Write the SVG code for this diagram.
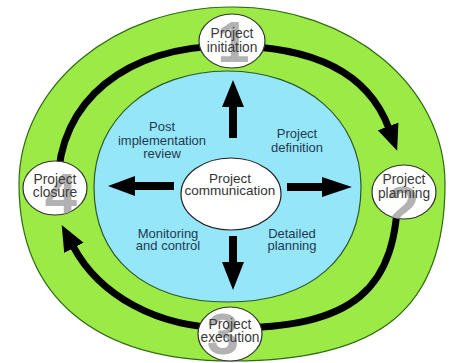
<svg xmlns="http://www.w3.org/2000/svg" width="453" height="363" viewBox="0 0 453 363">
  <style>
    .node { fill: #ffffff; stroke: #333333; stroke-width: 1.2; }
    .ntext { font-family: "Liberation Sans", Arial, sans-serif; font-size: 13.8px; fill: #3a3a3a; text-anchor: middle; }
    .digit { font-family: "Liberation Sans", Arial, sans-serif; font-size: 58px; font-weight: bold; fill: #b2b2b2; text-anchor: middle; }
    .label { font-family: "Liberation Sans", Arial, sans-serif; font-size: 13px; fill: #1f3a4f; text-anchor: middle; }
    .ring { fill: none; stroke: #000000; stroke-width: 7; }
    .block { fill: #000000; }
  </style>
  <defs>
    <marker id="ah" markerUnits="userSpaceOnUse" markerWidth="30" markerHeight="26" viewBox="0 -13 30 26" refX="2" refY="0" orient="auto">
      <path d="M0,-11 L26,0 L0,11 Z" fill="#000000"/>
    </marker>
    <clipPath id="c-init"><ellipse cx="232" cy="41" rx="33" ry="27"/></clipPath>
    <clipPath id="c-plan"><ellipse cx="404" cy="192" rx="32" ry="27"/></clipPath>
    <clipPath id="c-exec"><ellipse cx="230" cy="334" rx="32" ry="27"/></clipPath>
    <clipPath id="c-close"><ellipse cx="55" cy="188" rx="32" ry="27"/></clipPath>
  </defs>

  <rect x="0" y="0" width="453" height="363" fill="#ffffff"/>

  <g id="outer-ring">
    <path d="M19,184 C19,86.2 114.4,7 232,7 C349.6,7 445,86.2 445,184 C445,307.9 381.1,361 232,361 C95.7,361 19,297.3 19,184 Z" fill="#9BEA45" stroke="#2f6b14" stroke-width="1.2"/>
  </g>
  <g id="inner-area">
    <path d="M94,186.5 C94,119.5 150.1,71 227.5,71 C304.9,71 361,119.5 361,186.5 C361,258.1 310.3,302 227.5,302 C144.7,302 94,258.1 94,186.5 Z" fill="#96E6FA" stroke="#2b5a2b" stroke-width="1.2"/>
  </g>

  <g id="connectors">
    <path class="ring" d="M58,185.5 C58,101 126,46 228,46"/>
    <path class="ring" d="M228,46 C314.4,46 368.5,73.5 388.8,128.2" marker-end="url(#ah)"/>
    <path class="ring" d="M398,185.5 C398,290.95 353.8,328 228,328"/>
    <path class="ring" d="M228,328 C157.3,328 99.2,295.3 73,246.1" marker-end="url(#ah)"/>
    <polygon class="block" points="229,138 237,138 237,107 244,107 233,80 222,107 229,107"/>
    <polygon class="block" points="229,236 237,236 237,262 244,262 233,290 222,262 229,262"/>
    <polygon class="block" points="174,182 174,190 135,190 135,196 108,186 135,176 135,182"/>
    <polygon class="block" points="287,183 287,191 322,191 322,197 352,187 322,177 322,183"/>
  </g>

  <g id="labels">
    <text class="label" x="162" y="131">Post</text>
    <text class="label" x="162" y="145">implementation</text>
    <text class="label" x="162" y="158">review</text>
    <text class="label" x="297" y="138">Project</text>
    <text class="label" x="297" y="152">definition</text>
    <text class="label" x="168" y="238">Monitoring</text>
    <text class="label" x="168" y="250">and control</text>
    <text class="label" x="292" y="238">Detailed</text>
    <text class="label" x="292" y="250">planning</text>
  </g>

  <g id="node-center">
    <ellipse cx="231" cy="194" rx="50" ry="36" fill="#ffffff" stroke="#222222" stroke-width="1.2"/>
    <text x="230" y="183" font-family="Liberation Sans, Arial, sans-serif" font-size="13.5" fill="#333333" text-anchor="middle">Project</text>
    <text x="230" y="195" font-family="Liberation Sans, Arial, sans-serif" font-size="13.5" fill="#333333" text-anchor="middle">communication</text>
  </g>

  <g id="node-initiation">
    <ellipse class="node" cx="232" cy="41" rx="33" ry="27"/>
    <text class="digit" x="233.5" y="62" clip-path="url(#c-init)">1</text>
    <text class="ntext" x="232" y="38">Project</text>
    <text class="ntext" x="232" y="52">initiation</text>
  </g>

  <g id="node-planning">
    <ellipse class="node" cx="404" cy="192" rx="32" ry="27"/>
    <text class="digit" x="403" y="226.5" clip-path="url(#c-plan)">2</text>
    <text class="ntext" x="404" y="184">Project</text>
    <text class="ntext" x="404" y="197.5">planning</text>
  </g>

  <g id="node-execution">
    <ellipse class="node" cx="230" cy="334" rx="32" ry="27"/>
    <text class="digit" x="223" y="353.5" clip-path="url(#c-exec)">3</text>
    <text class="ntext" x="230" y="329">Project</text>
    <text class="ntext" x="230" y="342">execution</text>
  </g>

  <g id="node-closure">
    <ellipse class="node" cx="55" cy="188" rx="32" ry="27"/>
    <text class="digit" x="61" y="214" clip-path="url(#c-close)">4</text>
    <text class="ntext" x="55" y="184">Project</text>
    <text class="ntext" x="55" y="197">closure</text>
  </g>
</svg>
